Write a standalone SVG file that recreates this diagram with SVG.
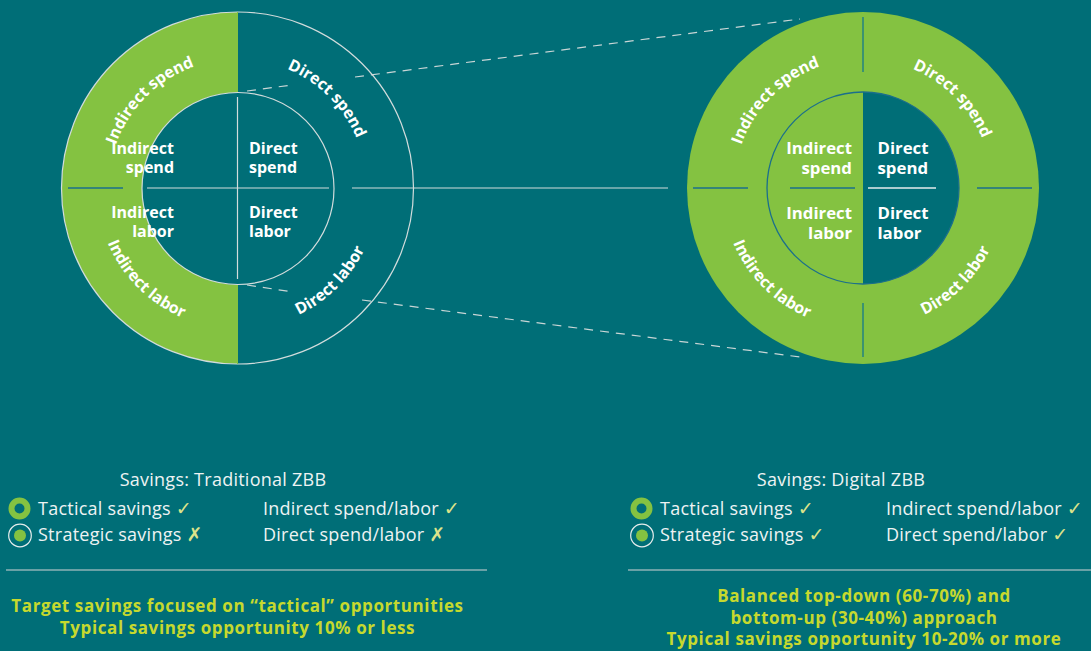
<svg xmlns="http://www.w3.org/2000/svg" width="1091" height="651" viewBox="0 0 1091 651">
<style>
.arc{font-family:"Open Sans","Liberation Sans",sans-serif;font-weight:700;font-size:16px;fill:#ffffff}
.inner{font-family:"Open Sans","Liberation Sans",sans-serif;font-weight:700;font-size:16px;fill:#ffffff}
.innerR{font-family:"Open Sans","Liberation Sans",sans-serif;font-weight:700;font-size:16.8px;fill:#ffffff}
.leg{font-family:"Open Sans","Liberation Sans",sans-serif;font-size:18px;letter-spacing:0.25px;fill:#eef3f3}
.mark{font-family:"DejaVu Sans",sans-serif;fill:#dde38a;font-size:19px}
.note{font-family:"Open Sans","Liberation Sans",sans-serif;font-weight:700;font-size:17px;letter-spacing:0.6px;fill:#c6d92e}
.thin{stroke:#d2dcdc;stroke-width:1.2;fill:none}
.dash{stroke:#c9d6d6;stroke-width:1.2;fill:none;stroke-dasharray:9 7}
.blue{stroke:#1b6f8c;stroke-width:1.3;fill:none}
.tealdiv{stroke:#3b9370;stroke-width:2;fill:none}
</style>
<defs>
<path id="lTL" d="M108.5 188 A129 129 0 0 1 237.5 59"/>
<path id="lTR" d="M237.5 59 A129 129 0 0 1 366.5 188"/>
<path id="lBL" d="M96.5 188 A141 141 0 0 0 237.5 329"/>
<path id="lBR" d="M237.5 329 A141 141 0 0 0 378.5 188"/>
<path id="rTL" d="M734 188 A129 129 0 0 1 863 59"/>
<path id="rTR" d="M863 59 A129 129 0 0 1 992 188"/>
<path id="rBL" d="M722 188 A141 141 0 0 0 863 329"/>
<path id="rBR" d="M863 329 A141 141 0 0 0 1004 188"/>
</defs>
<rect x="0" y="0" width="1091" height="651" fill="#006e77"/>

<g id="connectors">
<line class="thin" x1="352" y1="188" x2="668" y2="188"/>
<line class="dash" x1="247" y1="91" x2="292" y2="85"/>
<line class="dash" x1="355" y1="77" x2="800" y2="19"/>
<line class="dash" x1="247" y1="285" x2="293" y2="292"/>
<line class="dash" x1="362" y1="300" x2="800" y2="357"/>
</g>

<g id="traditional-circle">
<path d="M237.5 12 A176 176 0 0 0 237.5 364 Z" fill="#84c241"/>
<circle class="thin" cx="237.5" cy="188" r="176"/>
<line x1="237.5" y1="12" x2="237.5" y2="364" stroke="#84c241" stroke-width="1"/>
<line class="blue" x1="68" y1="188" x2="123" y2="188"/>
<circle cx="238" cy="188.5" r="96" fill="#006e77" stroke="#d2dcdc" stroke-width="1.2"/>
<line class="thin" x1="237.5" y1="97" x2="237.5" y2="279"/>
<line class="thin" x1="147" y1="188" x2="329" y2="188"/>
<text class="arc"><textPath href="#lTL" startOffset="50%" text-anchor="middle">Indirect spend</textPath></text>
<text class="arc"><textPath href="#lTR" startOffset="50%" text-anchor="middle">Direct spend</textPath></text>
<text class="arc"><textPath href="#lBL" startOffset="50%" text-anchor="middle">Indirect labor</textPath></text>
<text class="arc"><textPath href="#lBR" startOffset="50%" text-anchor="middle">Direct labor</textPath></text>
<text class="inner" text-anchor="end"><tspan x="174" y="154">Indirect</tspan><tspan x="174" y="173">spend</tspan></text>
<text class="inner"><tspan x="249" y="154">Direct</tspan><tspan x="249" y="173">spend</tspan></text>
<text class="inner" text-anchor="end"><tspan x="174" y="218">Indirect</tspan><tspan x="174" y="237">labor</tspan></text>
<text class="inner"><tspan x="249" y="218">Direct</tspan><tspan x="249" y="237">labor</tspan></text>
</g>

<g id="digital-circle">
<circle cx="863" cy="188" r="176" fill="#84c241"/>
<line class="tealdiv" x1="863" y1="17" x2="863" y2="72"/>
<line class="tealdiv" x1="863" y1="303" x2="863" y2="357"/>
<line class="blue" x1="693" y1="188" x2="748" y2="188"/>
<line class="blue" x1="977" y1="188" x2="1032" y2="188"/>
<path d="M863 92 A96 96 0 0 1 863 284 Z" fill="#006e77"/>
<circle cx="863" cy="188" r="96" fill="none" stroke="#1b6f8c" stroke-width="1.3"/>
<line class="blue" x1="790" y1="188" x2="855" y2="188"/>
<line stroke="#e4ecec" stroke-width="1.3" x1="868" y1="188" x2="936" y2="188"/>
<text class="arc"><textPath href="#rTL" startOffset="50%" text-anchor="middle">Indirect spend</textPath></text>
<text class="arc"><textPath href="#rTR" startOffset="50%" text-anchor="middle">Direct spend</textPath></text>
<text class="arc"><textPath href="#rBL" startOffset="50%" text-anchor="middle">Indirect labor</textPath></text>
<text class="arc"><textPath href="#rBR" startOffset="50%" text-anchor="middle">Direct labor</textPath></text>
<text class="innerR" text-anchor="end"><tspan x="852" y="154">Indirect</tspan><tspan x="852" y="173.5">spend</tspan></text>
<text class="innerR"><tspan x="877.5" y="154">Direct</tspan><tspan x="877.5" y="173.5">spend</tspan></text>
<text class="innerR" text-anchor="end"><tspan x="852" y="219">Indirect</tspan><tspan x="852" y="239">labor</tspan></text>
<text class="innerR"><tspan x="877.5" y="219">Direct</tspan><tspan x="877.5" y="239">labor</tspan></text>
</g>

<g id="legend-traditional">
<text class="leg" x="223" y="486" text-anchor="middle">Savings: Traditional ZBB</text>
<circle cx="19.5" cy="508.5" r="8" fill="#006e77" stroke="#84c241" stroke-width="6"/>
<text class="leg" x="38" y="515">Tactical savings <tspan class="mark">✓</tspan></text>
<circle cx="20" cy="535.5" r="11.3" fill="none" stroke="#e6eded" stroke-width="1.2"/>
<circle cx="20" cy="535.5" r="6" fill="#84c241"/>
<text class="leg" x="38" y="541">Strategic savings <tspan class="mark">✗</tspan></text>
<text class="leg" x="263" y="515">Indirect spend/labor <tspan class="mark">✓</tspan></text>
<text class="leg" x="263" y="541">Direct spend/labor <tspan class="mark">✗</tspan></text>
<line x1="6" y1="570" x2="487" y2="570" stroke="#8db3b6" stroke-width="1.3"/>
<text class="note" text-anchor="middle"><tspan x="237.5" y="612">Target savings focused on “tactical” opportunities</tspan><tspan x="237.5" y="634">Typical savings opportunity 10% or less</tspan></text>
</g>

<g id="legend-digital">
<text class="leg" x="841" y="486" text-anchor="middle">Savings: Digital ZBB</text>
<circle cx="641.5" cy="508.5" r="8" fill="#006e77" stroke="#84c241" stroke-width="6"/>
<text class="leg" x="660" y="515">Tactical savings <tspan class="mark">✓</tspan></text>
<circle cx="642" cy="535.5" r="11.3" fill="none" stroke="#e6eded" stroke-width="1.2"/>
<circle cx="642" cy="535.5" r="6" fill="#84c241"/>
<text class="leg" x="660" y="541">Strategic savings <tspan class="mark">✓</tspan></text>
<text class="leg" x="886" y="515">Indirect spend/labor <tspan class="mark">✓</tspan></text>
<text class="leg" x="886" y="541">Direct spend/labor <tspan class="mark">✓</tspan></text>
<line x1="628" y1="570" x2="1091" y2="570" stroke="#8db3b6" stroke-width="1.3"/>
<text class="note" text-anchor="middle"><tspan x="864" y="602">Balanced top-down (60-70%) and</tspan><tspan x="864" y="623.5">bottom-up (30-40%) approach</tspan><tspan x="864" y="645">Typical savings opportunity 10-20% or more</tspan></text>
</g>
</svg>
